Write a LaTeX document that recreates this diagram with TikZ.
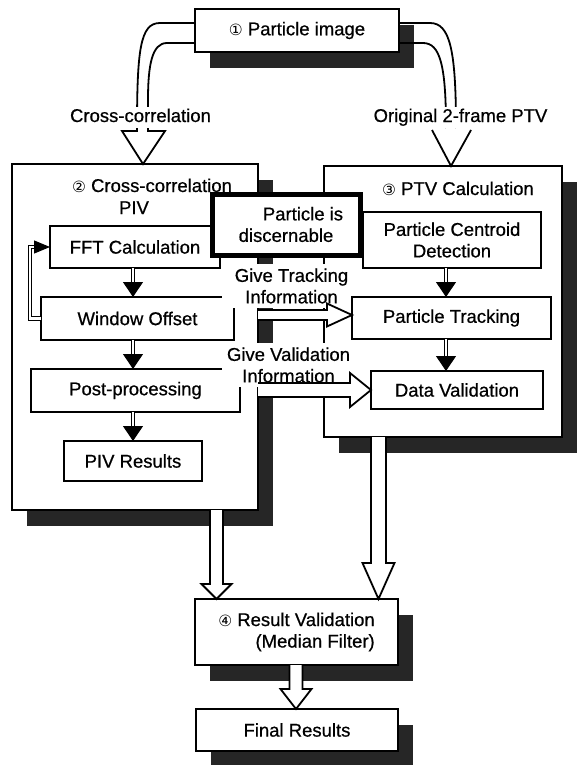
\documentclass[tikz,border=0pt]{standalone}
\usepackage{fontspec}
\setmainfont{Liberation Sans}[FakeBold=0.6]
\newfontfamily\circfont{DejaVu Sans}
\usetikzlibrary{arrows.meta,calc,shadows}

\newcommand\circnum[1]{{\fontsize{15.5}{15.5}\selectfont\circfont #1}}

% hollow block arrow pointing right: start, end, shaft half-width, head half-width, head length
\newcommand\hollowright[5]{%
  \filldraw[hollow] let \p1=(#1), \p2=(#2) in
    (\x1,\y1+#3pt) -- (\x2-#5pt,\y1+#3pt) -- (\x2-#5pt,\y1+#4pt) -- (\x2,\y1)
    -- (\x2-#5pt,\y1-#4pt) -- (\x2-#5pt,\y1-#3pt) -- (\x1,\y1-#3pt);}
% hollow block arrow pointing down
\newcommand\hollowdown[5]{%
  \filldraw[hollow] let \p1=(#1), \p2=(#2) in
    (\x1-#3pt,\y1) -- (\x1-#3pt,\y2+#5pt) -- (\x1-#4pt,\y2+#5pt) -- (\x1,\y2)
    -- (\x1+#4pt,\y2+#5pt) -- (\x1+#3pt,\y2+#5pt) -- (\x1+#3pt,\y1);}

\tikzset{
  every node/.style={font=\fontsize{18.5}{21.5}\selectfont},
  box/.style={draw, line width=1.8pt, fill=white, inner sep=2pt, outer sep=0pt,
    anchor=north west, align=center},
  shadowed/.style={drop shadow={shadow xshift=15pt, shadow yshift=-16pt,
    fill=black!85, opacity=1}},
  txt/.style={inner sep=0pt, anchor=base},
  lbl/.style={fill=white, inner sep=2pt, text depth=4pt, anchor=base},
  cover/.style={fill=white, inner sep=1pt, align=center},
  pipe/.style={line width=1.8pt, line join=miter},
  hollow/.style={line width=1.8pt, line join=miter, fill=white, draw=black},
  dbl/.style={double, double distance=2.4pt, line width=1.1pt, line join=miter,
    -{Triangle[length=15pt,width=20pt]}},
  dblloop/.style={dbl, -{Triangle[length=16pt,width=13pt]}},
}

\begin{document}
\begin{tikzpicture}[x=1pt,y=-1pt]
\path[use as bounding box, fill=white] (0,0) rectangle (579,765);

% the two main calculation blocks
\node[box, shadowed, minimum width=246pt, minimum height=346pt] (piv) at (12,164) {};
\node[box, shadowed, minimum width=238pt, minimum height=271pt] (ptv) at (324,166) {};

% source image and the two routes out of it
\node[box, shadowed, minimum width=204pt, minimum height=43pt] (pimg) at (195,9)
  {\circnum{①} Particle image};
\coordinate (ltip) at ($(piv.north west)+(131,0)$);
\coordinate (rtip) at ($(ptv.north west)+(127,0)$);
\draw[pipe] ($(pimg.north west)+(0,14)$) -- (160,23)
  .. controls (140,23) and (137,50) .. (137,131) -- (122,131) -- (ltip)
  -- (165,131) -- (148,131) -- (148,100)
  .. controls (148,65) and (152,43) .. (167,43) -- ($(pimg.north west)+(0,34)$);
\draw[pipe] ($(pimg.north east)+(0,14)$) -- (430,23)
  .. controls (450,23) and (456,50) .. (456,128);
\draw[pipe] ($(pimg.north east)+(0,34)$) -- (423,43)
  .. controls (440,43) and (446,65) .. (446,128);
\draw[pipe] (432,130) -- (rtip) -- (471,130);
\node[lbl] (lcc) at (140.5,122) {Cross-correlation};
\node[lbl] (lptv) at (460.5,122) {Original 2-frame PTV};

% PIV chain
\node[txt] (pivt1) at (152,192) {\circnum{②} Cross-correlation};
\node[txt] (pivt2) at (134,214) {PIV};
\node[box, minimum width=170pt, minimum height=42pt] (fft) at (50,226) {FFT Calculation};
\node[box, minimum width=193pt, minimum height=43pt] (wo) at (41,297) {Window Offset};
\node[box, minimum width=209pt, minimum height=43pt] (pp) at (31,369) {Post-processing};
\node[box, minimum width=138pt, minimum height=40pt] (pivres) at (64,441) {PIV Results};
\coordinate (pivcol) at (133,0);
\draw[dbl] (fft.south -| pivcol) -- (wo.north -| pivcol);
\draw[dbl] (wo.south -| pivcol) -- (pp.north -| pivcol);
\draw[dbl] (pp.south -| pivcol) -- (pivres.north -| pivcol);
\draw[dblloop] (wo.west) -- ++(-11,0) |- (fft.west);

% condition box between the two blocks
\node[box, line width=5pt, minimum width=148pt, minimum height=61pt] (disc) at (212,194)
  {\hspace*{34pt}Particle is\\discernable};

% information handed from PIV to PTV
\node[cover, minimum width=139pt, minimum height=44pt] (gti) at (291.5,286)
  {Give Tracking\\Information};
\node[cover, minimum width=133pt, minimum height=44pt] (gvi) at (288.5,365)
  {Give Validation\\Information};
\coordinate (g1) at ($(piv.north east)+(0,151)$);
\coordinate (g2) at ($(piv.north east)+(0,226)$);

% PTV chain
\node[txt] (ptvt) at (458,195) {\circnum{③} PTV Calculation};
\node[box, minimum width=178pt, minimum height=56pt] (cent) at (363,212)
  {Particle Centroid\\Detection};
\node[box, minimum width=199pt, minimum height=42pt] (trk) at (352,297) {Particle Tracking};
\node[box, minimum width=172pt, minimum height=38pt] (dv) at (371,371) {Data Validation};
\hollowright{g1}{g1 -| trk.west}{5}{11.5}{25}
\hollowright{g2}{g2 -| dv.west}{7}{17}{21}
\coordinate (ptvcol) at (446,0);
\draw[dbl] (cent.south -| ptvcol) -- (trk.north -| ptvcol);
\draw[dbl] (trk.south -| ptvcol) -- (dv.north -| ptvcol);

% merging and final output
\node[box, shadowed, minimum width=203pt, minimum height=66pt, align=right] (resv) at (195,599)
  {\circnum{④} Result Validation\\(Median Filter)};
\node[box, shadowed, minimum width=202pt, minimum height=42pt] (fin) at (196,709) {Final Results};
\coordinate (a1) at ($(piv.south west)+(204.5,0)$);
\coordinate (a2) at ($(ptv.south west)+(54.5,0)$);
\coordinate (a3) at ($(resv.south west)+(101,0)$);
\hollowdown{a1}{resv.north -| a1}{6.5}{15}{15}
\hollowdown{a2}{resv.north -| a2}{7.5}{16}{36}
\hollowdown{a3}{fin.north -| a3}{6.5}{15.5}{20}
\end{tikzpicture}
\end{document}
